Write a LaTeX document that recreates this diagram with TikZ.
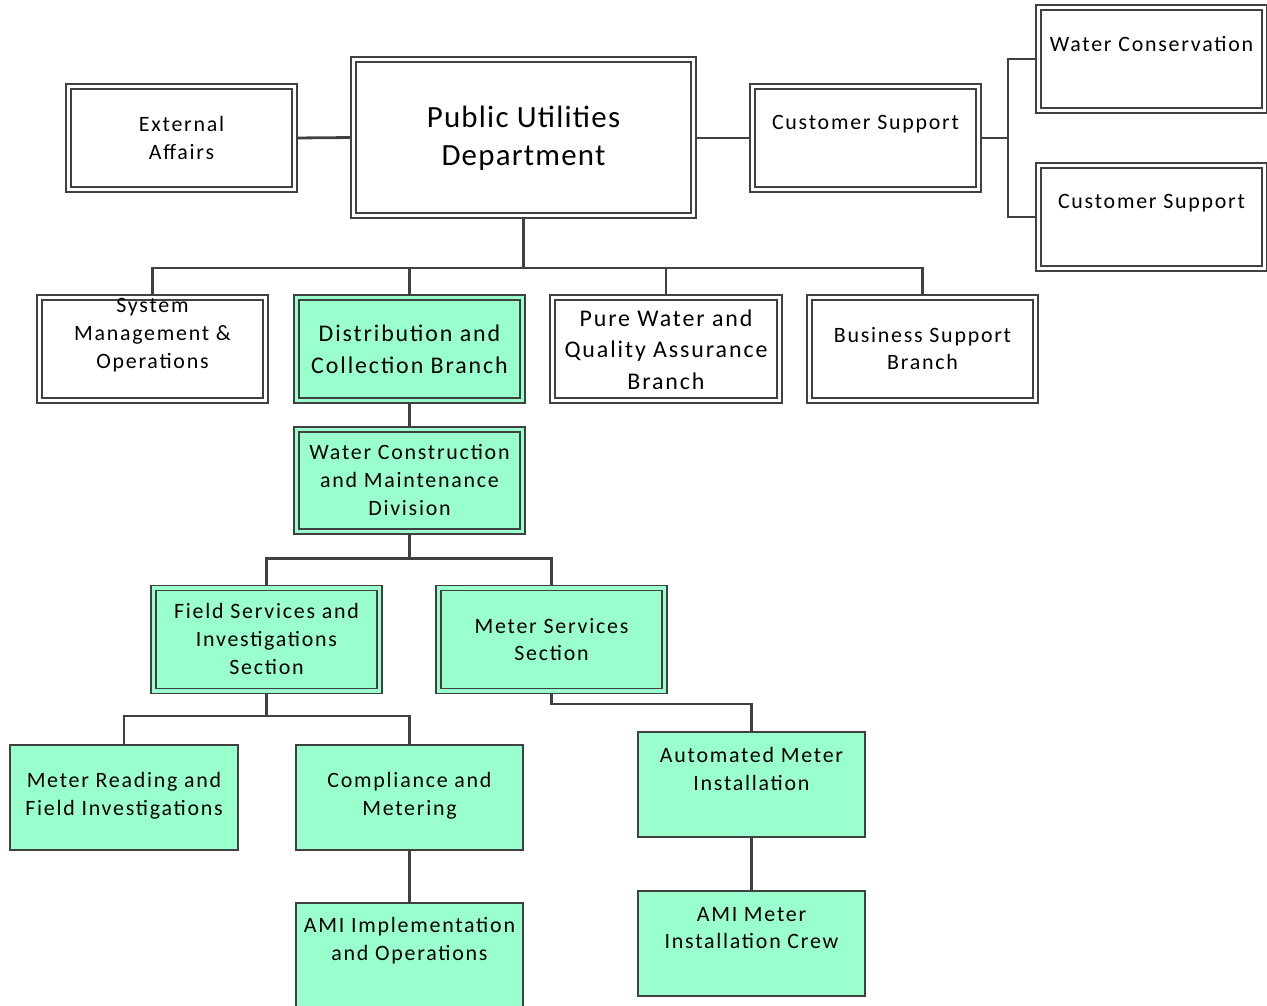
\documentclass[tikz,border=0pt]{standalone}
\usepackage{fontspec}
\setmainfont{Carlito}[LetterSpace=8]
\newfontfamily\titlefont{Carlito}[LetterSpace=4]
\usetikzlibrary{backgrounds}
\definecolor{mint}{HTML}{99FFCC}
\definecolor{edge}{HTML}{404040}
\tikzset{
  box/.style={rectangle, minimum width=226bp, minimum height=103bp, inner sep=0pt, outer sep=0pt},
  dbox/.style={box, draw=edge, line width=1.6bp, double=white, double distance=3.6bp},
  gbox/.style={dbox, fill=mint, double=mint},
  sbox/.style={box, draw=edge, line width=2bp, fill=mint},
  txt/.style={align=center, inner sep=0pt, font=\fontsize{22}{28}\selectfont},
  link/.style={draw=edge, line width=2.8bp}
}
\begin{document}
\begin{tikzpicture}[x=1bp, y=-1bp]
\useasboundingbox (0,0) rectangle (1267,1006);

% top level
\node[dbox, minimum width=340bp, minimum height=156bp] (pud) at (523.5,137.5) {};
\node[txt, font=\titlefont\fontsize{31}{38}\selectfont] (pudt) at (523.5,138) {Public Utilities\\Department};
\node[dbox] (ea) at (181.5,138) {};
\node[txt] (eat) at (181.5,138) {External\\Affairs};
\node[dbox] (cs) at (865.5,138) {};
\node[txt] (cst) at (865.5,124) {Customer Support};
\node[dbox] (wc) at (1151.5,59) {};
\node[txt] (wct) at (1151.5,44) {Water Conservation};
\node[dbox] (cs2) at (1151.5,217) {};
\node[txt] (cs2t) at (1151.5,203) {Customer Support};

% branches
\node[dbox] (smo) at (152.5,349) {};
\node[txt] (smot) at (152.5,335) {System\\Management \&\\Operations};
\node[gbox] (dcb) at (409.5,349) {};
\node[txt, font=\fontsize{24}{32}\selectfont] (dcbt) at (409.5,349) {Distribution and\\Collection Branch};
\node[dbox, minimum width=227bp] (pw) at (666,349) {};
\node[txt, font=\fontsize{24}{31.5}\selectfont] (pwt) at (666,349.5) {Pure Water and\\Quality Assurance\\Branch};
\node[dbox] (bs) at (922.5,349) {};
\node[txt] (bst) at (922.5,348.5) {Business Support\\Branch};

% division and sections
\node[gbox, minimum height=102bp] (wcd) at (409.5,480.5) {};
\node[txt] (wcdt) at (409.5,480) {Water Construction\\and Maintenance\\Division};
\node[gbox] (fs) at (266.5,639.5) {};
\node[txt] (fst) at (266.5,639) {Field Services and\\Investigations\\Section};
\node[gbox] (ms) at (551.5,639.5) {};
\node[txt] (mst) at (551.5,639.5) {Meter Services\\Section};

% units
\node[sbox, minimum width=227bp, minimum height=105bp] (mr) at (124,797) {};
\node[txt] (mrt) at (124,796) {Meter Reading and\\Field Investigations};
\node[sbox, minimum width=227bp, minimum height=105bp] (cm) at (409.5,797) {};
\node[txt] (cmt) at (409.5,796) {Compliance and\\Metering};
\node[sbox, minimum width=227bp, minimum height=110bp] (ami) at (409.5,958) {};
\node[txt] (amit) at (409.5,941) {AMI Implementation\\and Operations};
\node[sbox, minimum width=227bp, minimum height=105bp] (ami2) at (751.5,784) {};
\node[txt] (ami2t) at (751.5,769) {Automated Meter\\Installation};
\node[sbox, minimum width=227bp, minimum height=105bp] (crew) at (751.5,943) {};
\node[txt] (crewt) at (751.5,928) {AMI Meter\\Installation Crew};

% connectors
\coordinate (busy) at (0,268);
\coordinate (cbus) at (1008,0);
\begin{scope}[on background layer]
  \draw[link] (ea.east) -- (pud.west);
  \draw[link] (pud.east) -- (cs.east -| pud.east) -- (cs.west);
  \draw[link] (cs.east) -- (cbus |- cs.east);
  \draw[link] (wc.west) -| (cbus |- cs2.west) -- (cs2.west);
  \draw[link] (pud.south) -- (pud.south |- busy);
  \draw[link] (smo.north) |- (bs.north |- busy) -- (bs.north);
  \draw[link] (dcb.north) -- (dcb.north |- busy);
  \draw[link] (pw.north) -- (pw.north |- busy);
  \draw[link] (dcb.south) -- (wcd.north);
  \draw[link] (wcd.south) -- ++(0,27) -| (fs.north);
  \draw[link] (wcd.south) ++(0,27) -| (ms.north);
  \draw[link] (fs.south) -- ++(0,25) -| (mr.north);
  \draw[link] (fs.south) ++(0,25) -| (cm.north);
  \draw[link] (ms.south) -- ++(0,13) -| (ami2.north);
  \draw[link] (cm.south) -- (ami.north);
  \draw[link] (ami2.south) -- (crew.north);
\end{scope}
\end{tikzpicture}
\end{document}
